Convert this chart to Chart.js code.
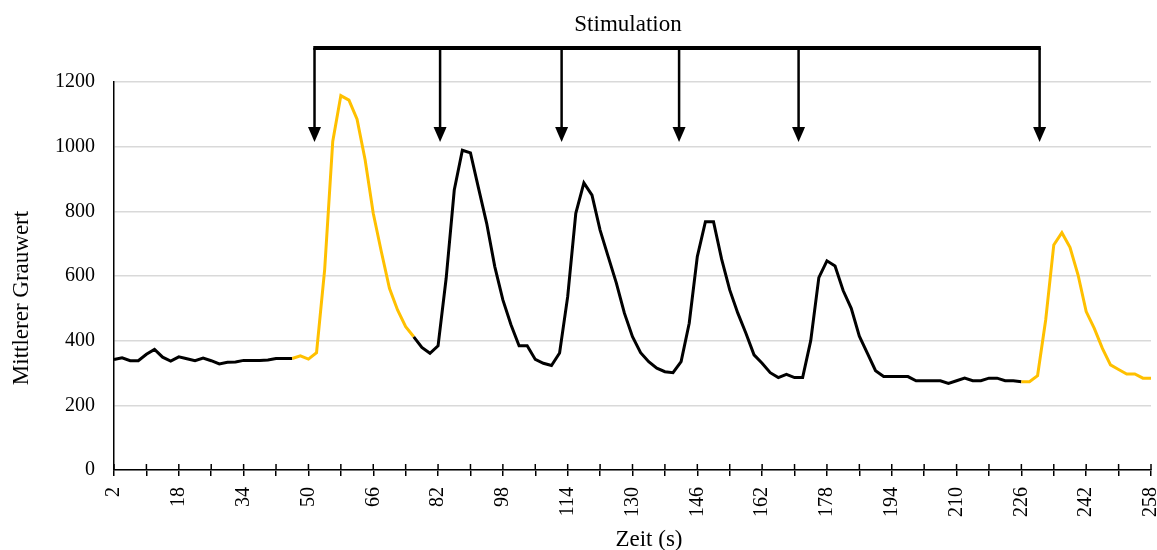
<!DOCTYPE html>
<html>
<head>
<meta charset="utf-8">
<script src="https://cdn.jsdelivr.net/npm/chart.js@4.4.1/dist/chart.umd.min.js"></script>
<style>
  body { margin: 0; background: #fff; }
  #wrap { width: 1157px; height: 550px; }
</style>
</head>
<body>
<div id="wrap"><canvas id="chart"></canvas></div>
<script>
// time in seconds (one frame every 2 s)
const zeit = [2, 4, 6, 8, 10, 12, 14, 16, 18, 20, 22, 24, 26, 28, 30, 32, 34, 36, 38, 40,
  42, 44, 46, 48, 50, 52, 54, 56, 58, 60, 62, 64, 66, 68, 70, 72, 74, 76, 78, 80,
  82, 84, 86, 88, 90, 92, 94, 96, 98, 100, 102, 104, 106, 108, 110, 112, 114, 116, 118, 120,
  122, 124, 126, 128, 130, 132, 134, 136, 138, 140, 142, 144, 146, 148, 150, 152, 154, 156, 158, 160,
  162, 164, 166, 168, 170, 172, 174, 176, 178, 180, 182, 184, 186, 188, 190, 192, 194, 196, 198, 200,
  202, 204, 206, 208, 210, 212, 214, 216, 218, 220, 222, 224, 226, 228, 230, 232, 234, 236, 238, 240,
  242, 244, 246, 248, 250, 252, 254, 256, 258];

// mittlerer Grauwert per frame
const grauwert = [342, 347, 338, 338, 358, 373, 349, 337, 350, 344, 338, 346, 338, 328, 333, 334, 339, 339, 339, 340,
  345, 345, 345, 353, 343, 363, 619, 1016, 1158, 1144, 1085, 959, 794, 675, 562, 495, 443, 412, 379, 361,
  384, 593, 866, 989, 981, 871, 763, 629, 526, 449, 384, 384, 342, 330, 323, 362, 536, 794, 888, 850,
  742, 660, 579, 485, 412, 363, 335, 315, 304, 301, 335, 454, 660, 768, 768, 652, 557, 485, 423, 356,
  330, 301, 286, 296, 286, 286, 400, 595, 647, 631, 555, 500, 414, 361, 307, 289, 289, 289, 289, 276,
  276, 276, 276, 268, 276, 284, 276, 276, 284, 284, 276, 276, 273, 273, 292, 464, 696, 734, 689, 603,
  490, 438, 376, 325, 311, 297, 297, 284, 284];

// stretches drawn in yellow (first and last index)
const gelbBereiche = [[22, 37], [112, 128]];

// stimulation times (s)
const stimZeiten = [51.5, 82.5, 112.5, 141.5, 171, 230.5];

const gelb = '#FFC000';
const serif = '"Liberation Serif", "Times New Roman", serif';

function istGelb(i) {
  return gelbBereiche.some(b => i >= b[0] && i < b[1]);
}

const extras = {
  id: 'extras',
  afterDraw(chart) {
    const ctx = chart.ctx;
    const x = chart.scales.x, y = chart.scales.y;
    const px = t => x.getPixelForValue((t - 2) / 2);
    ctx.save();
    ctx.strokeStyle = '#000';
    ctx.fillStyle = '#000';
    // upper half of the x tick marks
    ctx.lineWidth = 1.5;
    x.ticks.forEach((tk, i) => {
      if (i % 4 !== 0) return;
      const p = x.getPixelForTick(i);
      ctx.beginPath();
      ctx.moveTo(p, y.bottom);
      ctx.lineTo(p, y.bottom - 6);
      ctx.stroke();
    });
    // stimulation bracket with arrows
    const xs = stimZeiten.map(px);
    const barY = 48, tipY = 142;
    ctx.lineWidth = 4;
    ctx.beginPath();
    ctx.moveTo(xs[0] - 1.25, barY);
    ctx.lineTo(xs[xs.length - 1] + 1.25, barY);
    ctx.stroke();
    ctx.lineWidth = 2.5;
    xs.forEach(p => {
      ctx.beginPath();
      ctx.moveTo(p, barY);
      ctx.lineTo(p, tipY - 12);
      ctx.stroke();
      ctx.beginPath();
      ctx.moveTo(p - 6.5, tipY - 15);
      ctx.lineTo(p + 6.5, tipY - 15);
      ctx.lineTo(p, tipY);
      ctx.closePath();
      ctx.fill();
    });
    // texts
    ctx.font = '23px ' + serif;
    ctx.textAlign = 'center';
    ctx.textBaseline = 'middle';
    ctx.fillText('Stimulation', 628, 25);
    ctx.fillText('Zeit (s)', 649, 540);
    ctx.translate(22, 298);
    ctx.rotate(-Math.PI / 2);
    ctx.fillText('Mittlerer Grauwert', 0, 0);
    ctx.restore();
  }
};

new Chart(document.getElementById('chart'), {
  type: 'line',
  data: {
    labels: zeit,
    datasets: [{
      data: grauwert,
      borderColor: '#000',
      borderWidth: 3,
      pointRadius: 0,
      tension: 0,
      segment: {
        borderColor: c => istGelb(c.p0DataIndex) ? gelb : '#000'
      }
    }]
  },
  options: {
    responsive: true,
    maintainAspectRatio: false,
    animation: false,
    layout: { padding: { top: 82, right: 6, left: 0, bottom: 0 } },
    plugins: { legend: { display: false }, tooltip: { enabled: false } },
    scales: {
      x: {
        offset: false,
        grid: {
          drawOnChartArea: false,
          drawTicks: true,
          tickLength: 6,
          lineWidth: 1.5,
          color: c => c.index % 4 === 0 ? '#000' : 'rgba(0,0,0,0)'
        },
        border: { color: '#000', width: 1.5 },
        ticks: {
          autoSkip: false,
          minRotation: 90,
          maxRotation: 90,
          padding: 11,
          color: '#000',
          font: { family: serif, size: 20 },
          callback: (v, i) => i % 8 === 0 ? zeit[i] : ''
        },
        afterFit: s => { s.height = 80; s.paddingLeft = 0; s.paddingRight = 0; }
      },
      y: {
        min: 0,
        max: 1200,
        ticks: {
          stepSize: 200,
          padding: 19,
          color: '#000',
          font: { family: serif, size: 20 },
          callback: v => String(v)
        },
        grid: { color: '#d9d9d9', lineWidth: 1.5, drawTicks: false },
        border: { color: '#000', width: 1.5 },
        afterFit: s => { s.width = 114; s.paddingTop = 0; s.paddingBottom = 0; }
      }
    }
  },
  plugins: [extras]
});
</script>
</body>
</html>
